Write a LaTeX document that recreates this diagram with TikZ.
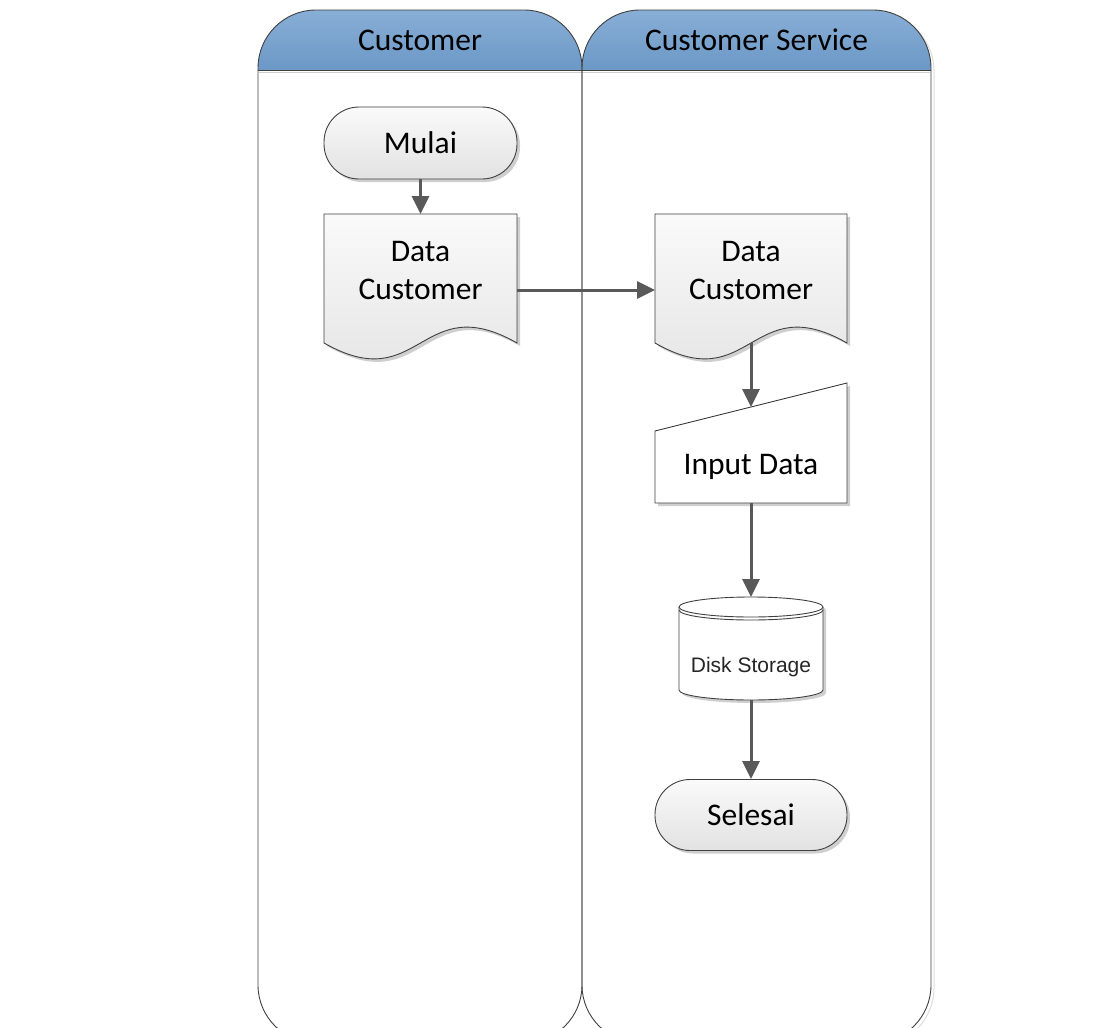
\documentclass[tikz,border=0pt]{standalone}
\usepackage{fontspec}
\setmainfont{Carlito}
\newfontfamily\arialf{Liberation Sans}
\usetikzlibrary{arrows.meta,shadows}
\definecolor{lineC}{HTML}{404040}
\definecolor{arrC}{HTML}{595959}
\definecolor{hdrTop}{RGB}{136,174,214}
\definecolor{hdrBot}{RGB}{80,130,182}
\definecolor{shapeTop}{HTML}{FAFAFA}
\definecolor{shapeBot}{HTML}{E2E2E2}
\definecolor{shadowC}{HTML}{CFCFCF}
\tikzset{
  lanebox/.style={draw=lineC, line width=0.9pt, rounded corners=58pt},
  laneshadow/.style={draw=shadowC!70, line width=1pt, rounded corners=58pt},
  hdrfill/.style={top color=hdrTop, bottom color=hdrBot, rounded corners=58pt},
  bigtext/.style={font=\fontsize{31.5}{38}\selectfont, text=black, inner sep=0pt},
  shapeline/.style={draw=lineC, line width=0.9pt},
  grayfill/.style={top color=shapeTop, bottom color=shapeBot},
  shapeshadow/.style={fill=shadowC, draw=none},
  terminal/.style={shapeline, grayfill, rounded corners=35pt, minimum height=72pt,
    inner sep=0pt, font=\fontsize{31.5}{38}\selectfont,
    drop shadow={shadow xshift=3pt, shadow yshift=-3pt, fill=shadowC, opacity=1}},
  lbl/.style={font=\fontsize{31.5}{38}\selectfont, align=center, inner sep=0pt, text=black},
  flow/.style={draw=arrC, line width=3pt, -{Triangle[length=18pt,width=17pt]}},
}
\begin{document}
\begin{tikzpicture}[x=1pt, y=-1pt]
\useasboundingbox (0,0) rectangle (1117,1028);
\clip (0,0) rectangle (1117,1028);
\fill[white] (0,0) rectangle (1117,1028);

% lane shadows
\begin{scope}[shift={(3,3)}]
  \draw[laneshadow] (258,1043) rectangle (582,10);
  \draw[laneshadow] (582,1043) rectangle (931,10);
\end{scope}
\fill[white, rounded corners=58pt] (258,1043) rectangle (931,10);

% headers
\begin{scope}
  \clip (0,0) rectangle (1117,70);
  \shade[hdrfill] (258,130) rectangle (582,10);
  \shade[hdrfill] (582,130) rectangle (931,10);
\end{scope}
\draw[draw=shadowC, line width=1.5pt] (259,72.5) -- (930,72.5);
\draw[lineC, line width=0.9pt] (258,70) -- (931,70);

% lane outlines
\draw[lanebox] (258,1043) rectangle (582,10);
\draw[lanebox] (582,1043) rectangle (931,10);

\node[bigtext] (h1) at (420,40) {Customer};
\node[bigtext] (h2) at (756.5,40) {Customer Service};

% Mulai
\node[terminal, minimum width=193pt] (mulai) at (420.5,143) {Mulai};

% Document left
\path[shapeshadow, shift={(3,3)}] (324,214) -- (517,214) -- (517,343)
  .. controls (420.5,288) and (420.5,398) .. (324,343) -- cycle;
\path[shapeline, grayfill] (324,214) -- (517,214) -- (517,343)
  .. controls (420.5,288) and (420.5,398) .. (324,343) -- cycle;
\node[lbl] (doc1) at (420.5,271) {Data\\Customer};
\coordinate (doc1N) at (420.5,214);
\coordinate (doc1E) at (517,290);

% Document right
\path[shapeshadow, shift={(3,3)}] (655,214) -- (847,214) -- (847,343)
  .. controls (751,288) and (751,398) .. (655,343) -- cycle;
\path[shapeline, grayfill] (655,214) -- (847,214) -- (847,343)
  .. controls (751,288) and (751,398) .. (655,343) -- cycle;
\node[lbl] (doc2) at (751,271) {Data\\Customer};
\coordinate (doc2W) at (655,290);
\coordinate (doc2S) at (751,343);

% Manual input
\path[shapeshadow, shift={(3,3)}] (655,431) -- (847,383) -- (847,503) -- (655,503) -- cycle;
\path[shapeline, fill=white] (655,431) -- (847,383) -- (847,503) -- (655,503) -- cycle;
\node[lbl] (inp) at (751,467) {Input Data};
\coordinate (inpN) at (751,407);
\coordinate (inpS) at (751,503);

% Disk storage
\path[shapeshadow, shift={(3,3)}] (679,607) .. controls (679,601.5) and (711.2,597) .. (751,597)
  .. controls (790.8,597) and (823,601.5) .. (823,607) -- (823,690)
  .. controls (823,695.5) and (790.8,700) .. (751,700)
  .. controls (711.2,700) and (679,695.5) .. (679,690) -- cycle;
\path[shapeline, fill=white] (679,607) .. controls (679,601.5) and (711.2,597) .. (751,597)
  .. controls (790.8,597) and (823,601.5) .. (823,607) -- (823,690)
  .. controls (823,695.5) and (790.8,700) .. (751,700)
  .. controls (711.2,700) and (679,695.5) .. (679,690) -- cycle;
\draw[shapeline] (679,607) .. controls (679,612.5) and (711.2,617) .. (751,617)
  .. controls (790.8,617) and (823,612.5) .. (823,607);
\draw[shapeline] (679,610) .. controls (679,615.5) and (711.2,620) .. (751,620)
  .. controls (790.8,620) and (823,615.5) .. (823,610);
\node[font=\arialf\fontsize{21}{25}\selectfont, text=black!85, inner sep=0pt] (disk) at (751,667) {Disk Storage};
\coordinate (diskN) at (751,597);
\coordinate (diskS) at (751,700);

% Selesai
\node[terminal, minimum width=192pt, minimum height=71pt] (selesai) at (751,815) {Selesai};

% connectors
\draw[flow] (mulai.south) -- (doc1N);
\draw[flow] (doc1E) -- (doc2W);
\draw[flow] (doc2S) -- (inpN);
\draw[flow] (inpS) -- (diskN);
\draw[flow] (diskS) -- (selesai.north);
\end{tikzpicture}
\end{document}
